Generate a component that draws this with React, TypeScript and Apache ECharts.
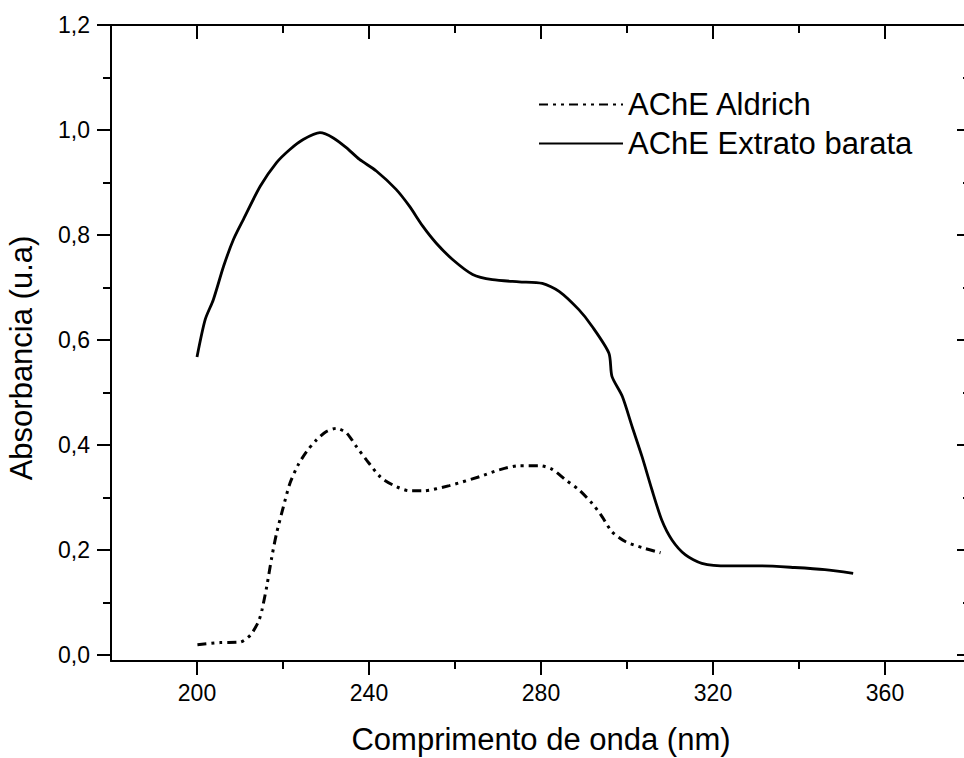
import React, { useEffect, useRef } from "react";
import * as echarts from "echarts";

const extratoWavelength = [
  200.0, 201.9, 203.8, 206.2, 208.5, 210.8, 214.7, 218.5, 221.6, 224.7, 228.6, 231.7, 234.8,
  237.8, 241.7, 246.3, 249.4, 252.5, 255.6, 259.5, 264.1, 268.7, 274.9, 280.3, 284.2, 288.8,
  291.9, 295.8, 296.5, 298.9, 301.2, 303.5, 305.8, 308.1, 310.5, 313.6, 317.4, 323.6, 331.3,
  339.0, 346.0, 352.6,
];
const extratoAbs = [
  0.568, 0.639, 0.677, 0.741, 0.792, 0.83, 0.893, 0.938, 0.963, 0.982, 0.995, 0.985, 0.966,
  0.944, 0.922, 0.887, 0.855, 0.817, 0.785, 0.753, 0.725, 0.715, 0.711, 0.708, 0.693, 0.658,
  0.626, 0.575, 0.531, 0.493, 0.435, 0.378, 0.315, 0.257, 0.219, 0.191, 0.175, 0.17, 0.17,
  0.167, 0.163, 0.156,
];

const aldrichWavelength = [
  200.1, 205.4, 210.0, 212.4, 214.3, 215.1, 216.2, 217.4, 218.5, 220.1, 221.6, 223.5, 225.5,
  227.8, 230.1, 232.4, 234.8, 237.1, 239.4, 242.7, 245.6, 249.4, 252.5, 258.7, 265.7, 270.3,
  274.9, 279.6, 282.6, 285.7, 288.8, 291.9, 294.2, 296.5, 299.7, 303.5, 307.8,
];
const aldrichAbs = [
  0.02, 0.024, 0.025, 0.038, 0.064, 0.086, 0.13, 0.187, 0.232, 0.283, 0.327, 0.362, 0.388,
  0.41, 0.426, 0.432, 0.423, 0.397, 0.372, 0.339, 0.324, 0.313, 0.313, 0.323, 0.34, 0.353,
  0.361, 0.361, 0.354, 0.334, 0.315, 0.289, 0.264, 0.235, 0.216, 0.205, 0.195,
];

const xMajorTicks = [200, 240, 280, 320, 360];
const xMinorTicks = [220, 260, 300, 340];
const yMajorTicks = [0, 0.2, 0.4, 0.6, 0.8, 1.0, 1.2];
const yMinorTicks = [0.1, 0.3, 0.5, 0.7, 0.9, 1.1];

const seriesNames = ["AChE Aldrich", "AChE Extrato barata"];
const xTitle = "Comprimento de onda (nm)";
const yTitle = "Absorbancia (u.a)";

const FONT = "Arial, 'Liberation Sans', sans-serif";

export default function App() {
  const ref = useRef<HTMLDivElement>(null);
  useEffect(() => {
    if (!ref.current) return;
    const chart = echarts.init(ref.current, null, { renderer: "svg" });
    const xMin = 180, xMax = 380, yMin = -0.011, yMax = 1.2;
    const lineStyle = { color: "#000", width: 2 };
    const fmtY = (v: number) => v.toFixed(1).replace(".", ",");
    const xAxisBase = { type: "value", min: xMin, max: xMax, splitLine: { show: false } };
    const yAxisBase = { type: "value", min: yMin, max: yMax, splitLine: { show: false } };
    chart.setOption({
      animation: false,
      backgroundColor: "#fff",
      grid: { left: 111, top: 25, width: 860, bottom: 97, outerBoundsMode: "none", containLabel: false },
      legend: {
        orient: "vertical",
        left: 538,
        top: 89,
        padding: 0,
        itemWidth: 84,
        itemHeight: 14,
        itemGap: 8,
        itemStyle: { opacity: 0 },
        textStyle: { fontFamily: FONT, fontSize: 31, color: "#000", lineHeight: 30 },
        data: seriesNames,
      },
      xAxis: [
        {
          ...xAxisBase,
          position: "bottom",
          name: xTitle,
          nameLocation: "middle",
          nameGap: 63,
          nameTextStyle: { fontFamily: FONT, fontSize: 31, color: "#000" },
          axisLine: { show: true, onZero: false, lineStyle },
          axisTick: { show: true, customValues: xMajorTicks, length: 14, lineStyle },
          axisLabel: {
            show: true,
            customValues: xMajorTicks,
            margin: 20,
            fontFamily: FONT,
            fontSize: 23,
            color: "#000",
          },
        },
        {
          ...xAxisBase,
          position: "bottom",
          axisLine: { show: false, onZero: false },
          axisTick: { show: true, customValues: xMinorTicks, length: 8, lineStyle },
          axisLabel: { show: false },
        },
        {
          ...xAxisBase,
          position: "top",
          axisLine: { show: true, onZero: false, lineStyle },
          axisTick: { show: true, inside: true, customValues: xMajorTicks, length: 14, lineStyle },
          axisLabel: { show: false },
        },
        {
          ...xAxisBase,
          position: "top",
          axisLine: { show: false, onZero: false },
          axisTick: { show: true, inside: true, customValues: xMinorTicks, length: 8, lineStyle },
          axisLabel: { show: false },
        },
      ],
      yAxis: [
        {
          ...yAxisBase,
          position: "left",
          name: yTitle,
          nameLocation: "middle",
          nameGap: 74,
          nameRotate: 90,
          nameTextStyle: {
            fontFamily: FONT,
            fontSize: 31,
            color: "#000",
            padding: [0, 30, 0, 0],
          },
          axisLine: { show: true, onZero: false, lineStyle },
          axisTick: { show: true, customValues: yMajorTicks, length: 14, lineStyle },
          axisLabel: {
            show: true,
            customValues: yMajorTicks,
            margin: 21,
            formatter: fmtY,
            fontFamily: FONT,
            fontSize: 23,
            color: "#000",
          },
        },
        {
          ...yAxisBase,
          position: "left",
          axisLine: { show: false, onZero: false },
          axisTick: { show: true, customValues: yMinorTicks, length: 8, lineStyle },
          axisLabel: { show: false },
        },
        {
          ...yAxisBase,
          position: "right",
          axisLine: { show: true, onZero: false, lineStyle },
          axisTick: { show: true, inside: true, customValues: yMajorTicks, length: 14, lineStyle },
          axisLabel: { show: false },
        },
        {
          ...yAxisBase,
          position: "right",
          axisLine: { show: false, onZero: false },
          axisTick: { show: true, inside: true, customValues: yMinorTicks, length: 8, lineStyle },
          axisLabel: { show: false },
        },
      ],
      series: [
        {
          name: seriesNames[0],
          type: "line",
          xAxisIndex: 0,
          yAxisIndex: 0,
          data: aldrichWavelength.map((w, i) => [w, aldrichAbs[i]]),
          symbol: "none",
          smooth: 0.25,
          lineStyle: { color: "#000", width: 3, type: [9, 5, 3, 5, 3, 5] },
          itemStyle: { color: "#000" },
        },
        {
          name: seriesNames[1],
          type: "line",
          xAxisIndex: 0,
          yAxisIndex: 0,
          data: extratoWavelength.map((w, i) => [w, extratoAbs[i]]),
          symbol: "none",
          smooth: 0.25,
          lineStyle: { color: "#000", width: 2.8, type: "solid" },
          itemStyle: { color: "#000" },
        },
      ],
    });
    return () => chart.dispose();
  }, []);
  return (
    <div
      ref={ref}
      style={{ position: "fixed", left: 0, top: 0, width: 964, height: 758, background: "#fff" }}
    />
  );
}
